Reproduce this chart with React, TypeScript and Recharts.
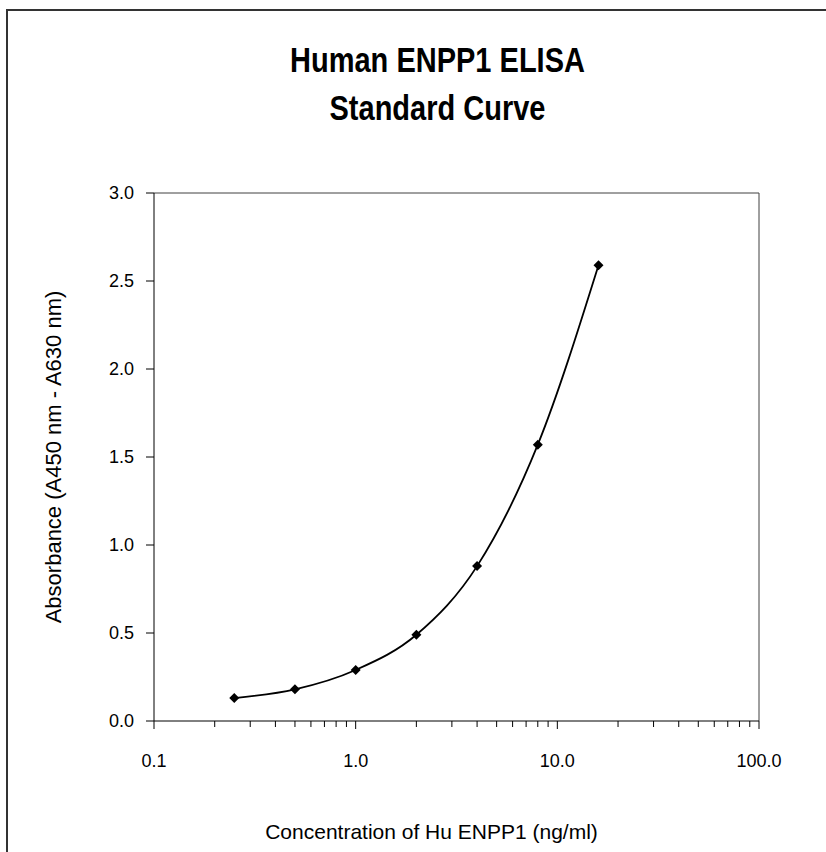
import { LineChart, Line, XAxis, YAxis, ReferenceLine } from "recharts";

// ng/ml standards
const concentrations = [0.25, 0.5, 1, 2, 4, 8, 16];
const absorbance = [0.13, 0.18, 0.29, 0.49, 0.88, 1.57, 2.59];

const decadeTicks = [0.1, 1, 10, 100];
const minorTicks = [
  0.2, 0.3, 0.4, 0.5, 0.6, 0.7, 0.8, 0.9,
  2, 3, 4, 5, 6, 7, 8, 9,
  20, 30, 40, 50, 60, 70, 80, 90,
];
const yTicks = [0, 0.5, 1, 1.5, 2, 2.5, 3];

const data = concentrations.map((c, i) => ({ conc: c, abs: absorbance[i] }));

const FONT = '"Liberation Sans Narrow", "Arial Narrow", "Liberation Sans", Arial, sans-serif';

function LogTick({ x, y, payload }: any) {
  const major = decadeTicks.includes(payload.value);
  return (
    <g>
      <line x1={x} x2={x} y1={y} y2={y + (major ? 8 : 6)} stroke="#000" strokeWidth={1} />
      {major && (
        <text x={x} y={y + 46} textAnchor="middle" fontSize={18} fontFamily={FONT} fill="#000">
          {payload.value.toFixed(1)}
        </text>
      )}
    </g>
  );
}

function Diamond({ cx, cy }: any) {
  const r = 5;
  return (
    <polygon
      points={`${cx},${cy - r} ${cx + r},${cy} ${cx},${cy + r} ${cx - r},${cy}`}
      fill="#000"
    />
  );
}

export default function App() {
  return (
    <div style={{ position: "fixed", left: 0, top: 0, width: 826, height: 852, overflow: "hidden", background: "#fff" }}>
      <div
        style={{
          position: "absolute",
          left: 6,
          top: 9,
          width: 900,
          height: 900,
          border: "2px solid #333",
        }}
      />
      <div
        style={{
          position: "absolute",
          left: 0,
          width: 875,
          top: 36,
          textAlign: "center",
          fontFamily: FONT,
          fontWeight: "bold",
          fontSize: 29,
          lineHeight: "40px",
          color: "#000",
          transform: "scaleY(1.2)",
          transformOrigin: "top",
        }}
      >
        Human ENPP1 ELISA
        <br />
        Standard Curve
      </div>
      <div style={{ position: "absolute", left: 0, top: 0 }}>
        <LineChart width={826} height={852} data={data} margin={{ top: 193, right: 67, bottom: 0, left: 0 }}>
          <XAxis
            dataKey="conc"
            type="number"
            scale="log"
            domain={[0.1, 100]}
            ticks={[...decadeTicks, ...minorTicks]}
            allowDataOverflow
            interval={0}
            height={131}
            tickSize={0}
            tickMargin={0}
            tickLine={false}
            tick={<LogTick />}
            stroke="#000"
            label={{
              value: "Concentration of Hu ENPP1 (ng/ml)",
              position: "insideBottom",
              offset: 13,
              dx: -25,
              style: { fontSize: 21, fontFamily: FONT, fill: "#000" },
            }}
          />
          <YAxis
            type="number"
            domain={[0, 3]}
            ticks={yTicks}
            width={154}
            tickSize={8}
            tickMargin={12}
            tickFormatter={(v: number) => v.toFixed(1)}
            tick={{ fontSize: 18, fontFamily: FONT, fill: "#000" }}
            stroke="#000"
            tickLine={{ stroke: "#000" }}
            label={{
              value: "Absorbance (A450 nm - A630 nm)",
              angle: -90,
              position: "insideLeft",
              offset: 53,
              style: { fontSize: 22, fontFamily: FONT, fill: "#000", textAnchor: "middle" },
            }}
          />
          <ReferenceLine y={3} stroke="#404040" strokeWidth={1} ifOverflow="visible" />
          <ReferenceLine x={100} stroke="#404040" strokeWidth={1} ifOverflow="visible" />
          <Line
            type="monotone"
            dataKey="abs"
            stroke="#000"
            strokeWidth={1.8}
            dot={<Diamond />}
            activeDot={false}
            isAnimationActive={false}
          />
        </LineChart>
      </div>
    </div>
  );
}
